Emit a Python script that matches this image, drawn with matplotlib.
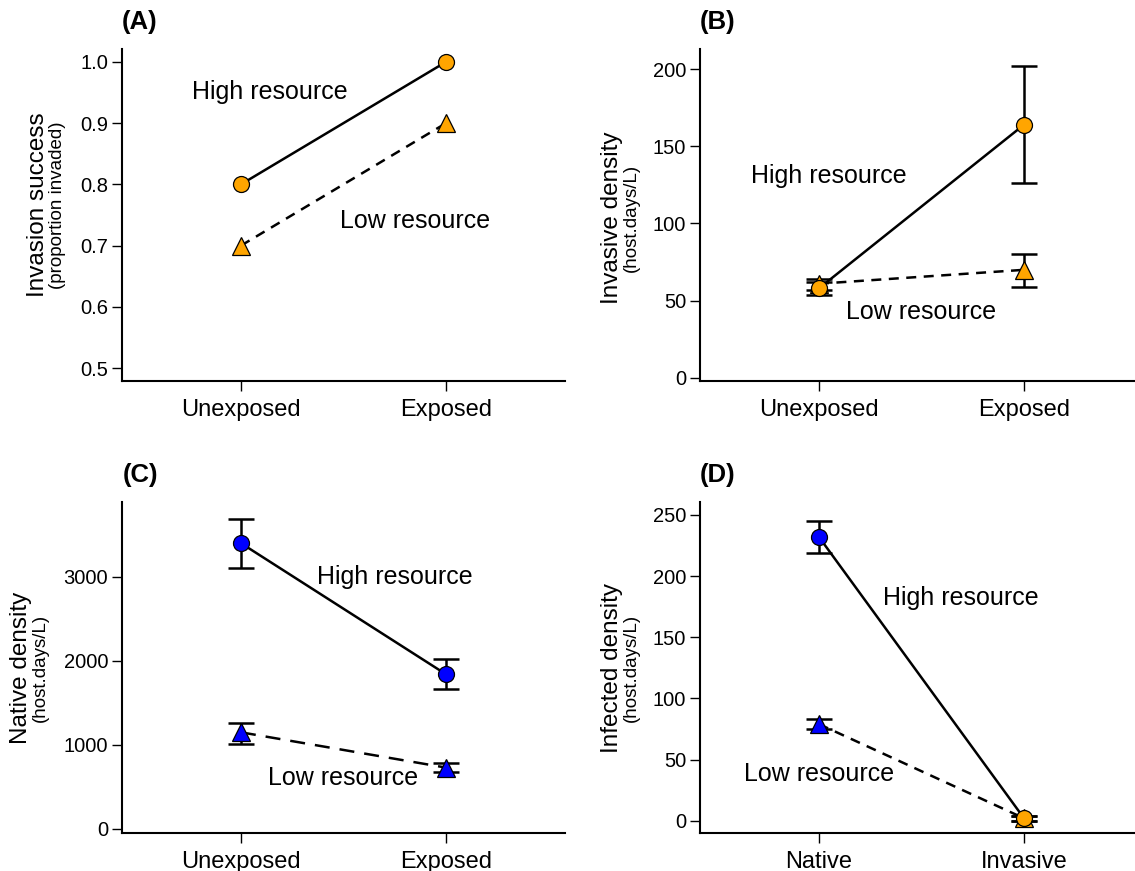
import numpy as np
import matplotlib.pyplot as plt

plt.rcParams['font.family'] = ['Liberation Sans', 'DejaVu Sans']

ORANGE = "#FFA500"
BLUE = "#0000FF"

# (A) invasion success
a_labels = ["Unexposed", "Exposed"]
a_high = [0.8, 1.0]
a_low = [0.7, 0.9]

# (B) invasive density
b_labels = ["Unexposed", "Exposed"]
b_high = [58, 164]
b_high_lo = [54, 126]
b_high_hi = [62, 202]
b_low = [61, 70]
b_low_lo = [57, 59]
b_low_hi = [64, 80]

# (C) native density
c_labels = ["Unexposed", "Exposed"]
c_high = [3400, 1840]
c_high_lo = [3110, 1660]
c_high_hi = [3690, 2020]
c_low = [1150, 730]
c_low_lo = [1010, 680]
c_low_hi = [1265, 790]

# (D) infected density
d_labels = ["Native", "Invasive"]
d_high = [232, 2]
d_high_lo = [219, 0]
d_high_hi = [245, 4]
d_low = [79, 2]
d_low_lo = [75, 0]
d_low_hi = [83, 4]

W, H = 1135, 871
fig = plt.figure(figsize=(W / 100, H / 100), dpi=100)


def px_axes(left, top, right, bottom):
    return fig.add_axes([left / W, 1 - bottom / H, (right - left) / W, (bottom - top) / H])


def style(ax, labels, ylim, yticks, yfmt):
    ax.spines["top"].set_visible(False)
    ax.spines["right"].set_visible(False)
    for s in ["left", "bottom"]:
        ax.spines[s].set_linewidth(1.5)
    ax.set_xlim(0.42, 2.58)
    ax.set_ylim(*ylim)
    ax.set_xticks([1, 2])
    ax.set_xticklabels(labels, fontsize=17)
    ax.set_yticks(yticks)
    ax.set_yticklabels([yfmt.format(v) for v in yticks], fontsize=14.5)
    ax.tick_params(length=7, width=1.0, pad=3)
    ax.tick_params(axis="x", pad=6)


def series(ax, y, lo, hi, dashes, marker, colors, ms):
    x = np.array([1, 2])
    line, = ax.plot(x, y, color="black", linewidth=1.8, zorder=2)
    if dashes is not None:
        line.set_dashes(dashes)
    if lo is not None:
        yerr = [np.array(y) - np.array(lo), np.array(hi) - np.array(y)]
        ax.errorbar(x, y, yerr=yerr, fmt="none", ecolor="black", elinewidth=1.8,
                    capsize=9.5, capthick=1.8, zorder=3)
    for xi, yi, c in zip(x, y, colors):
        ax.plot(xi, yi, marker=marker, markersize=ms, markerfacecolor=c,
                markeredgecolor="black", markeredgewidth=0.9, linestyle="none", zorder=4)


def ylab(x, yc, main, sub):
    fig.text(x / W, 1 - yc / H, main, rotation=90, ha="center", va="center", fontsize=17.5)
    fig.text((x + 19) / W, 1 - yc / H, sub, rotation=90, ha="center", va="center", fontsize=13.5)


SHORT = (4, 3)
LONG = (6, 4)

# Panel A
axA = px_axes(122, 49, 565, 381)
series(axA, a_low, None, None, SHORT, "^", [ORANGE, ORANGE], 13)
series(axA, a_high, None, None, None, "o", [ORANGE, ORANGE], 11.5)
style(axA, a_labels, (0.479, 1.021), [0.5, 0.6, 0.7, 0.8, 0.9, 1.0], "{:.1f}")
axA.text(1.14, 0.951, "High resource", fontsize=18, ha="center", va="center")
axA.text(1.85, 0.74, "Low resource", fontsize=18, ha="center", va="center")

# Panel B
axB = px_axes(700, 49, 1143, 381)
series(axB, b_low, b_low_lo, b_low_hi, SHORT, "^", [ORANGE, ORANGE], 13)
series(axB, b_high, b_high_lo, b_high_hi, None, "o", [ORANGE, ORANGE], 11.5)
style(axB, b_labels, (-2, 213), [0, 50, 100, 150, 200], "{:d}")
axB.text(1.05, 131, "High resource", fontsize=18, ha="center", va="center")
axB.text(1.5, 43, "Low resource", fontsize=18, ha="center", va="center")

# Panel C
axC = px_axes(122, 502, 565, 833)
series(axC, c_low, c_low_lo, c_low_hi, LONG, "^", [BLUE, BLUE], 13)
series(axC, c_high, c_high_lo, c_high_hi, None, "o", [BLUE, BLUE], 11.5)
style(axC, c_labels, (-48, 3890), [0, 1000, 2000, 3000], "{:d}")
axC.text(1.75, 3000, "High resource", fontsize=18, ha="center", va="center")
axC.text(1.5, 607, "Low resource", fontsize=18, ha="center", va="center")

# Panel D
axD = px_axes(700, 502, 1143, 833)
series(axD, d_low, d_low_lo, d_low_hi, SHORT, "^", [BLUE, ORANGE], 13)
series(axD, d_high, d_high_lo, d_high_hi, None, "o", [BLUE, ORANGE], 11.5)
style(axD, d_labels, (-10, 260.6), [0, 50, 100, 150, 200, 250], "{:d}")
axD.text(1.69, 182, "High resource", fontsize=18, ha="center", va="center")
axD.text(1.0, 38, "Low resource", fontsize=18, ha="center", va="center")

ylab(38, 205, "Invasion success", "(proportion invaded)")
ylab(612, 218, "Invasive density", "(host.days/L)")
ylab(21, 668, "Native density", "(host.days/L)")
ylab(612, 668, "Infected density", "(host.days/L)")

for x, y, t in [(140, 22, "(A)"), (718, 22, "(B)"), (140, 475, "(C)"), (718, 475, "(D)")]:
    fig.text(x / W, 1 - y / H, t, fontsize=18.5, fontweight="bold", ha="center", va="center")

fig.savefig("out.png", dpi=100)
